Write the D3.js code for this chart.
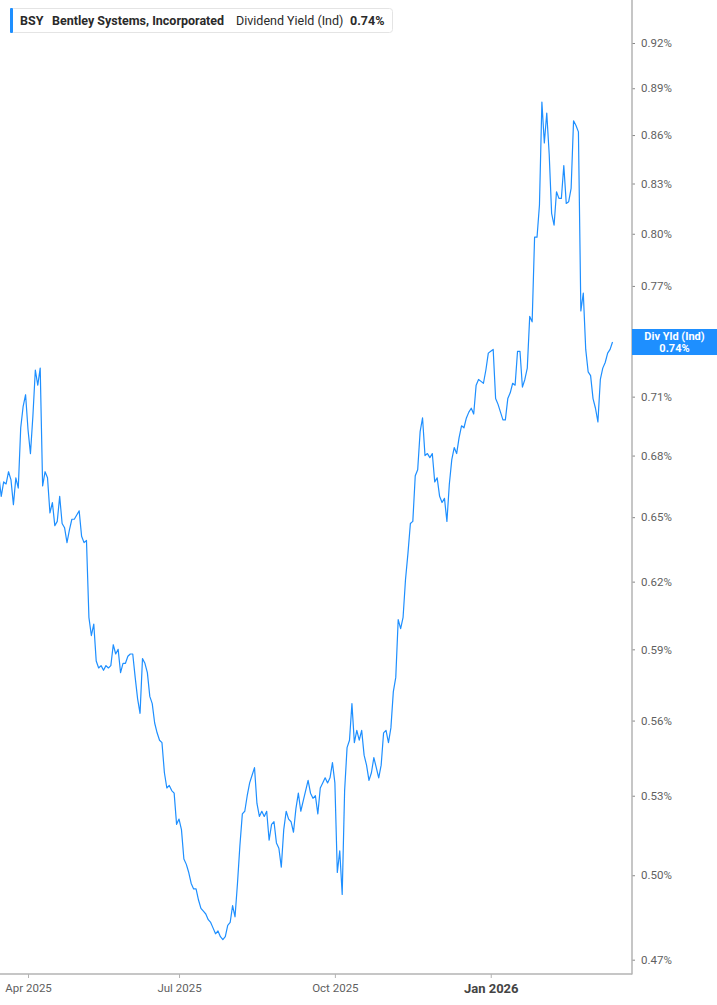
<!DOCTYPE html>
<html>
<head>
<meta charset="utf-8">
<script src="https://cdn.jsdelivr.net/npm/d3@7"></script>
<style>
  body { margin: 0; background: #fff; font-family: Roboto, "Noto Sans", sans-serif; }
</style>
</head>
<body>
<div id="chart"></div>
<script>
// header text
const ticker = "BSY";
const company = "Bentley Systems, Incorporated";
const metric = "Dividend Yield (Ind)";
const badgeLabel = "Div Yld (Ind)";

// trading calendar: first session and market holidays in the window
const startDate = "2025-03-14";
const holidays = ["2025-04-18", "2025-05-26", "2025-06-19", "2025-07-04", "2025-09-01",
  "2025-11-27", "2025-12-25", "2026-01-01", "2026-01-19", "2026-02-16"];

// dividend yield (%), one value per trading day
const yieldValues = [
  0.670, 0.660, 0.667, 0.666, 0.672, 0.668, 0.656, 0.669, 0.664, 0.694,
  0.705, 0.711, 0.693, 0.681, 0.700, 0.724, 0.716, 0.725, 0.665, 0.672,
  0.669, 0.652, 0.657, 0.646, 0.648, 0.660, 0.647, 0.645, 0.638, 0.644,
  0.649, 0.649, 0.651, 0.653, 0.641, 0.638, 0.639, 0.604, 0.596, 0.601,
  0.585, 0.582, 0.583, 0.581, 0.583, 0.582, 0.583, 0.592, 0.588, 0.590,
  0.580, 0.584, 0.584, 0.587, 0.588, 0.588, 0.578, 0.569, 0.563, 0.586,
  0.584, 0.580, 0.570, 0.567, 0.559, 0.555, 0.552, 0.551, 0.539, 0.533,
  0.534, 0.532, 0.531, 0.519, 0.521, 0.517, 0.506, 0.504, 0.501, 0.497,
  0.495, 0.495, 0.491, 0.488, 0.487, 0.486, 0.484, 0.483, 0.481, 0.479,
  0.480, 0.478, 0.477, 0.478, 0.482, 0.483, 0.489, 0.485, 0.497, 0.511,
  0.523, 0.524, 0.530, 0.535, 0.538, 0.541, 0.527, 0.522, 0.524, 0.522,
  0.524, 0.513, 0.519, 0.520, 0.512, 0.510, 0.503, 0.517, 0.524, 0.521,
  0.520, 0.516, 0.525, 0.531, 0.524, 0.528, 0.532, 0.536, 0.531, 0.529,
  0.530, 0.523, 0.533, 0.535, 0.537, 0.535, 0.537, 0.543, 0.535, 0.501,
  0.509, 0.493, 0.532, 0.549, 0.552, 0.567, 0.551, 0.556, 0.552, 0.556,
  0.546, 0.542, 0.536, 0.539, 0.545, 0.541, 0.537, 0.542, 0.555, 0.556,
  0.551, 0.557, 0.572, 0.578, 0.603, 0.599, 0.604, 0.621, 0.633, 0.647,
  0.648, 0.670, 0.673, 0.692, 0.699, 0.680, 0.681, 0.679, 0.681, 0.667,
  0.669, 0.660, 0.657, 0.659, 0.648, 0.666, 0.678, 0.684, 0.681, 0.689,
  0.695, 0.694, 0.699, 0.702, 0.704, 0.701, 0.716, 0.719, 0.718, 0.717,
  0.724, 0.733, 0.734, 0.735, 0.709, 0.706, 0.702, 0.698, 0.698, 0.709,
  0.712, 0.717, 0.716, 0.734, 0.734, 0.715, 0.719, 0.725, 0.753, 0.750,
  0.798, 0.798, 0.817, 0.881, 0.855, 0.874, 0.848, 0.812, 0.805, 0.825,
  0.821, 0.821, 0.841, 0.818, 0.819, 0.827, 0.869, 0.866, 0.862, 0.756,
  0.766, 0.735, 0.723, 0.721, 0.709, 0.704, 0.697, 0.719, 0.725, 0.728,
  0.733, 0.735, 0.739
];

const yTicks = [0.47, 0.50, 0.53, 0.56, 0.59, 0.62, 0.65, 0.68, 0.71, 0.74, 0.77, 0.80, 0.83, 0.86, 0.89, 0.92];
const xTickMonths = ["2025-04", "2025-07", "2025-10", "2026-01"];

// layout
const width = 717, height = 1005;
const plotRight = 632, plotBottom = 974;
const lineColor = "#1e8fff";
const axisColor = "#b3b3b3";

// build trading dates
const parseDay = d3.timeParse("%Y-%m-%d");
const fmtDay = d3.timeFormat("%Y-%m-%d");
const fmtMonth = d3.timeFormat("%Y-%m");
const fmtLabel = d3.timeFormat("%b %Y");
const dates = [];
let cur = parseDay(startDate);
while (dates.length < yieldValues.length) {
  const dow = cur.getDay();
  if (dow !== 0 && dow !== 6 && !holidays.includes(fmtDay(cur))) dates.push(cur);
  cur = d3.timeDay.offset(cur, 1);
}

const svg = d3.select("#chart").append("svg")
  .attr("width", width).attr("height", height);

// scales: trading-day index on x, log yield on y
const x = d3.scaleLinear().domain([0, 260]).range([-1.2, plotRight]);
const y = d3.scaleLog().domain([0.47, 0.92]).range([959.7, 43]);

svg.append("clipPath").attr("id", "plot")
  .append("rect").attr("x", 0).attr("y", 0).attr("width", plotRight).attr("height", plotBottom);

// line
const line = d3.line().x((d, i) => x(i)).y(d => y(d));
svg.append("path")
  .datum(yieldValues)
  .attr("clip-path", "url(#plot)")
  .attr("fill", "none")
  .attr("stroke", lineColor)
  .attr("stroke-width", 1.2)
  .attr("stroke-linejoin", "round")
  .attr("d", line);

const last = yieldValues[yieldValues.length - 1];
const by = y(last);

// y axis on the right (the label hidden by the badge is left out)
const yAxis = d3.axisRight(y).tickValues(yTicks).tickSize(3).tickPadding(6)
  .tickFormat(d => Math.abs(y(d) - by) < 13 ? "" : d.toFixed(2) + "%");
const gy = svg.append("g").attr("transform", `translate(${plotRight},0)`).call(yAxis);
gy.select(".domain").remove();
gy.selectAll(".tick line").attr("stroke", "#888");
gy.selectAll(".tick text").attr("fill", "#5f5f5f").attr("font-size", 11.5)
  .attr("font-family", "Roboto, sans-serif");

// x axis
const xTickIdx = xTickMonths.map(m => dates.findIndex(d => fmtMonth(d) === m));
const xAxis = d3.axisBottom(x).tickValues(xTickIdx).tickSize(4).tickPadding(6)
  .tickFormat(i => fmtLabel(dates[i]));
const gx = svg.append("g").attr("transform", `translate(0,${plotBottom})`).call(xAxis);
gx.select(".domain").remove();
gx.selectAll(".tick line").attr("stroke", axisColor);
gx.selectAll(".tick text")
  .attr("fill", i => dates[i].getMonth() === 0 ? "#444" : "#5f5f5f")
  .attr("font-weight", i => dates[i].getMonth() === 0 ? "bold" : "normal")
  .attr("font-size", i => dates[i].getMonth() === 0 ? 13 : 11.5)
  .attr("font-family", "Roboto, sans-serif");

// frame lines
svg.append("line").attr("x1", plotRight).attr("x2", plotRight).attr("y1", 0).attr("y2", plotBottom + 0.5)
  .attr("stroke", axisColor).attr("stroke-width", 1.5);
svg.append("line").attr("x1", 0).attr("x2", plotRight).attr("y1", plotBottom).attr("y2", plotBottom)
  .attr("stroke", axisColor).attr("stroke-width", 1.5);

// last value badge
const badge = svg.append("g");
badge.append("rect").attr("x", plotRight).attr("y", by - 13).attr("width", width - plotRight).attr("height", 26)
  .attr("fill", lineColor);
badge.append("text").attr("x", (plotRight + width) / 2).attr("y", by - 2)
  .attr("text-anchor", "middle").attr("fill", "#fff").attr("font-weight", "bold").attr("font-size", 11)
  .text(badgeLabel);
badge.append("text").attr("x", (plotRight + width) / 2).attr("y", by + 10)
  .attr("text-anchor", "middle").attr("fill", "#fff").attr("font-weight", "bold").attr("font-size", 11)
  .text(last.toFixed(2) + "%");

// header legend
const head = svg.append("g");
head.append("rect").attr("x", 10.5).attr("y", 8.5).attr("width", 382).attr("height", 24).attr("rx", 3)
  .attr("fill", "#fff").attr("stroke", "#e4e4e4");
head.append("rect").attr("x", 10).attr("y", 8).attr("width", 3).attr("height", 25).attr("rx", 1)
  .attr("fill", lineColor);
const ht = head.append("text").attr("y", 25).attr("font-size", 12.5).attr("fill", "#2a2a2a");
ht.append("tspan").attr("x", 20).attr("font-weight", "bold").text(ticker);
ht.append("tspan").attr("x", 52).attr("font-weight", "bold").text(company);
ht.append("tspan").attr("x", 236).text(metric);
ht.append("tspan").attr("x", 350).attr("font-weight", "bold").text(last.toFixed(2) + "%");
</script>
</body>
</html>
